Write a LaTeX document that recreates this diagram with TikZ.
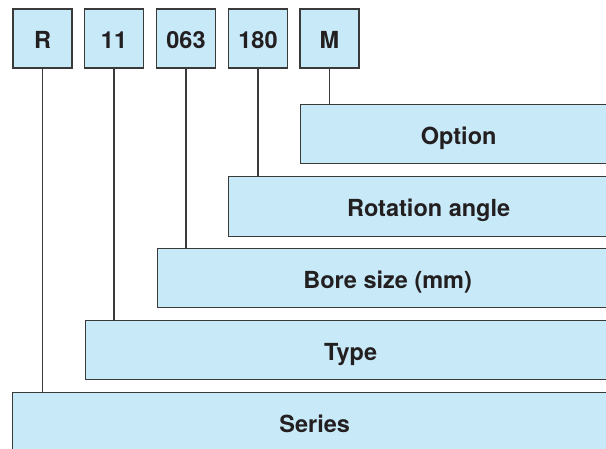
\documentclass[tikz,border=0pt]{standalone}
\usepackage{fontspec}
\setmainfont{TeX Gyre Heros}
\usepackage{xcolor}
\usetikzlibrary{positioning}
\definecolor{boxblue}{HTML}{C7E9F8}
\definecolor{edgegray}{HTML}{3A3A3A}
\definecolor{textdark}{HTML}{231F20}

\begin{document}
\begin{tikzpicture}[x=1pt, y=-1pt,
    codebox/.style={draw=edgegray, line width=1.3pt, fill=boxblue, text=textdark,
      minimum width=59pt, minimum height=59pt, inner sep=0pt,
      text height=19pt, text depth=0pt,
      font=\fontsize{23.5}{28}\selectfont\bfseries},
    bar/.style={draw=edgegray, line width=1.3pt, fill=boxblue, text=textdark,
      anchor=north west, inner sep=0pt, minimum height=59pt,
      text height=20pt, text depth=0pt,
      font=\fontsize{23.5}{28}\selectfont\bfseries},
    lead/.style={draw=edgegray, line width=1.1pt}]

  \useasboundingbox (0,0) rectangle (606,448);

  % Code boxes
  \node[codebox] (R)   at (42.5,38.5)  {R};
  \node[codebox] (typ) at (114,38.5)   {11};
  \node[codebox] (bor) at (186,38.5)   {063};
  \node[codebox] (rot) at (258,38.5)   {180};
  \node[codebox] (opt) at (329.5,38.5) {M};

  % Description bars
  \node[bar, minimum width=316pt] (option)   at (300,104) {Option};
  \node[bar, minimum width=400pt, minimum height=60pt] (rotation) at (228,176) {Rotation angle};
  \node[bar, minimum width=460pt] (bore)     at (157,248) {Bore size (mm)};
  \node[bar, minimum width=530pt] (type)     at (85,320)  {Type};
  \node[bar, minimum width=604pt, minimum height=60pt] (series) at (12,392) {Series};

  % Leaders
  \draw[lead] (R.south)   -- (R.south |- series.north);
  \draw[lead] (typ.south) -- (typ.south |- type.north);
  \draw[lead] (bor.south) -- (bor.south |- bore.north);
  \draw[lead] (rot.south) -- (rot.south |- rotation.north);
  \draw[lead] (opt.south) -- (opt.south |- option.north);

\end{tikzpicture}
\end{document}
